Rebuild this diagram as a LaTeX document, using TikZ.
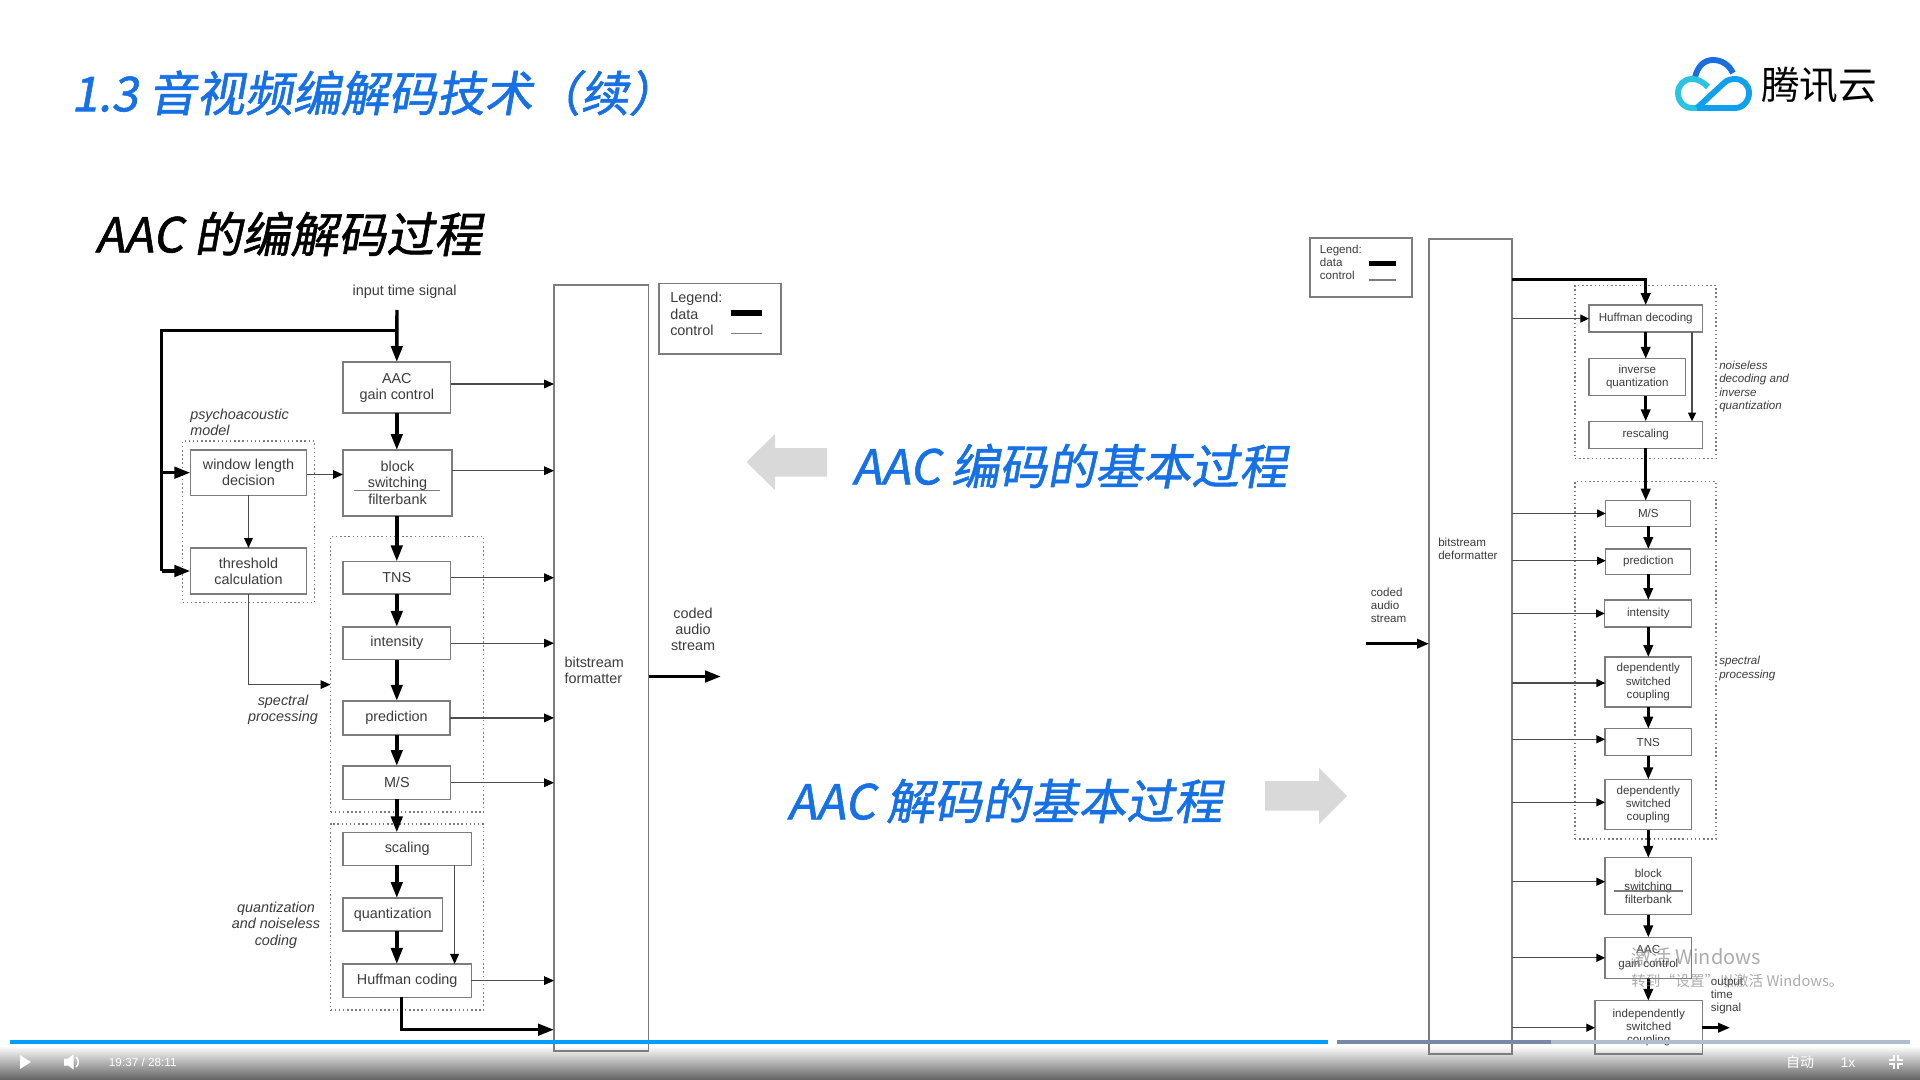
\documentclass[tikz,border=0pt]{standalone}
\usepackage{fontspec}
\setmainfont{Liberation Sans}
\newfontfamily\cjk{Noto Sans CJK SC}
\newfontfamily\cjkslant[FakeSlant=0.18,FakeBold=1.2]{Noto Sans CJK SC}
\usetikzlibrary{arrows.meta,calc}
\definecolor{ttlblue}{RGB}{22,112,230}
\definecolor{boxgray}{RGB}{125,125,125}
\definecolor{txtgray}{RGB}{60,60,60}
\definecolor{arrowgray}{RGB}{217,217,217}
\tikzset{
  wh/.style 2 args={minimum width=#1*0.75pt,minimum height=#2*0.75pt},
  lbox/.style={draw=boxgray,line width=1.1pt,inner sep=0pt,outer sep=0pt,align=center,text=txtgray,font=\fontsize{10.8}{12}\selectfont},
  rbox/.style={lbox,line width=1pt,font=\fontsize{8.7}{10}\selectfont},
  dotbox/.style={draw=boxgray,line width=1.1pt,dotted,inner sep=0pt,outer sep=0pt},
  ltxt/.style={inner sep=0pt,align=center,text=txtgray,font=\fontsize{10.8}{12}\selectfont},
  rtxt/.style={inner sep=0pt,align=left,text=txtgray,font=\fontsize{8.7}{10}\selectfont},
  ldata/.style={line width=2.6pt,-{Triangle[length=12pt,width=8.5pt]}},
  lctrl/.style={line width=0.9pt,draw=black!70,-{Triangle[length=7.5pt,width=6.5pt,color=black]}},
  rdata/.style={line width=2pt,-{Triangle[length=9pt,width=7pt]}},
  rctrl/.style={line width=0.9pt,draw=black!70,-{Triangle[length=6.5pt,width=6pt,color=black]}},
  bigtxt/.style={inner sep=0pt,anchor=west,font=\cjkslant\fontsize{36}{40}\selectfont},
}
\begin{document}
\begin{tikzpicture}[x=0.75pt,y=0.75pt,yscale=-1,xscale=1]
\useasboundingbox (0,0) rectangle (1920,1080);
\fill[white] (0,0) rectangle (1920,1080);
%Shape: player bar
\shade[top color=white,bottom color=black!62] (0,1046) rectangle (1920,1080);

% Titles
\node[bigtxt,text=ttlblue] (title) at (71,93) {1.3 音视频编解码技术（续）};
\node[bigtxt,text=black] (subtitle) at (95,234) {AAC 的编解码过程};
\node[bigtxt,text=ttlblue] (enctxt) at (852,466) {AAC 编码的基本过程};
\node[bigtxt,text=ttlblue] (dectxt) at (787,801) {AAC 解码的基本过程};
%Shape: grey arrows
\fill[arrowgray] (746.5,462) -- (775,434) -- (775,448) -- (827,448) -- (827,476.5) -- (775,476.5) -- (775,490) -- cycle;
\fill[arrowgray] (1347,796) -- (1319,768) -- (1319,781) -- (1265,781) -- (1265,810.5) -- (1319,810.5) -- (1319,824) -- cycle;

%Shape: logo
\draw[line width=4.4pt,color={rgb,255:red,26;green,111;blue,224}] (1695,77) .. controls (1698,66) and (1704,60) .. (1713,60) .. controls (1722,60) and (1729,65) .. (1733,73);
\draw[line width=4.4pt,color={rgb,255:red,43;green,196;blue,224}] (1708,87) .. controls (1703,82) and (1698,79) .. (1692,79) .. controls (1684,79) and (1678,85) .. (1678,93) .. controls (1678,101) and (1684,108) .. (1692,108) -- (1700,108);
\draw[line width=4.4pt,color={rgb,255:red,16;green,160;blue,240}] (1697,108) -- (1735,108) .. controls (1743,108) and (1749,101) .. (1749,93) .. controls (1749,85) and (1743,79) .. (1735,79) .. controls (1731,79) and (1727,80) .. (1724,83) -- (1697,108);
\node[inner sep=0pt,anchor=west,font=\cjk\fontsize{29}{32}\selectfont] (logotxt) at (1761,85) {腾讯云};

%Left diagram: boxes
\node[lbox,wh={94.5}{766}] (fmt) at (601.3,668) {};
\node[lbox,wh={122}{70.5}] (leglbox) at (720,318.7) {};
\node[dotbox,wh={131.6}{161.7}] (psy) at (248.5,521.8) {};
\node[dotbox,wh={153}{275.5}] (spec) at (407,674.3) {};
\node[dotbox,wh={153}{186}] (quantg) at (407,917) {};
\node[lbox,wh={107.5}{51}] (aac) at (396.8,387.5) {AAC\\gain control};
\node[lbox,wh={109}{66}] (blk) at (397.5,483) {block\\switching\\[1pt]filterbank};
\node[lbox,wh={116.3}{45.5}] (win) at (248.5,472.7) {window length\\decision};
\node[lbox,wh={116.3}{46}] (thr) at (248.5,571) {threshold\\calculation};
\node[lbox,wh={107.5}{32.6}] (tns) at (396.8,577.7) {TNS};
\node[lbox,wh={107.5}{32.7}] (inten) at (396.8,643.2) {intensity};
\node[lbox,wh={107}{34.2}] (pred) at (396.5,717.9) {prediction};
\node[lbox,wh={107.5}{33.4}] (ms) at (396.8,782.7) {M/S};
\node[lbox,wh={128.4}{33}] (scal) at (407.2,848.9) {scaling};
\node[lbox,wh={99.3}{33}] (quant) at (392.7,914.5) {quantization};
\node[lbox,wh={128.4}{33.3}] (hcod) at (407.2,980.6) {Huffman coding};
\draw[boxgray,line width=1.1pt] ($(blk.west)+(11,7.4)$) -- ($(blk.east)+(-12,7.4)$);

%Left diagram: text
\node[ltxt] (inlbl) at (404.6,292) {input time signal};
\node[ltxt,align=left,anchor=west,font=\itshape\fontsize{10.8}{12}\selectfont] (psylbl) at (190,422) {psychoacoustic\\model};
\node[ltxt,font=\itshape\fontsize{10.8}{12}\selectfont] (speclbl) at (283,710) {spectral\\processing};
\node[ltxt,font=\itshape\fontsize{10.8}{12.4}\selectfont] (qnclbl) at (276,925) {quantization\\and noiseless\\coding};
\node[ltxt,align=left,anchor=west] (fmtlbl) at (564.3,670) {bitstream\\formatter};
\node[ltxt] (outlbl) at (693,629) {coded\\audio\\stream};
\node[ltxt,align=left,anchor=north west,font=\fontsize{10.8}{12.4}\selectfont] (leglbl) at (670,292) {Legend:\\data\\control};
\coordinate (lda) at (730.6,313.4);
\coordinate (ldb) at (762,313.4);
\coordinate (lca) at (730.6,333.7);
\coordinate (lcb) at (762,333.7);
\draw[line width=4.4pt] (lda) -- (ldb);
\draw[boxgray,line width=0.9pt] (lca) -- (lcb);

%Left diagram: data lines
\coordinate (inp) at (397,310);
\coordinate (tee) at (397,330.6);
\coordinate (busT) at (161.7,330.6);
\coordinate (hout) at (401.5,997.3);
\coordinate (fmtout) at (721,676.5);
\draw[ldata] (inp) -- (aac.north);
\draw[ldata,-] (tee) -- (busT) -- (busT |- thr.west);
\draw[ldata] (busT |- win.west) -- (win.west);
\draw[ldata] (busT |- thr.west) -- (thr.west);
\draw[ldata] (aac.south) -- (aac.south |- blk.north);
\draw[ldata] (aac.south |- blk.south) -- (aac.south |- tns.north);
\draw[ldata] (tns.south) -- (inten.north);
\draw[ldata] (inten.south) -- (inten.south |- pred.north);
\draw[ldata] (inten.south |- pred.south) -- (inten.south |- ms.north);
\draw[ldata] (ms.south) -- (ms.south |- scal.north);
\draw[ldata] (ms.south |- scal.south) -- (ms.south |- quant.north);
\draw[ldata] (ms.south |- quant.south) -- (ms.south |- hcod.north);
\draw[ldata] (hout) |- (fmt.west |- 0,1029.7);
\draw[ldata] (fmt.east |- fmtout) -- (fmtout);

%Left diagram: control lines
\draw[lctrl] (aac.east |- 0,384) -- (fmt.west |- 0,384);
\draw[lctrl] (blk.east |- 0,470.7) -- (fmt.west |- 0,470.7);
\draw[lctrl] (tns.east) -- (fmt.west |- tns.east);
\draw[lctrl] (inten.east) -- (fmt.west |- inten.east);
\draw[lctrl] (pred.east) -- (fmt.west |- pred.east);
\draw[lctrl] (ms.east) -- (fmt.west |- ms.east);
\draw[lctrl] (hcod.east) -- (fmt.west |- hcod.east);
\draw[lctrl] (win.east |- 0,474.5) -- (blk.west |- 0,474.5);
\draw[lctrl] (win.south) -- (thr.north);
\draw[lctrl] (thr.south) |- (spec.west |- 0,684.6);
\draw[lctrl] (scal.south -| 454.6,0) -- (hcod.north -| 454.6,0);

%Right diagram: boxes
\node[lbox,wh={83}{815}] (dfm) at (1470.5,646.5) {};
\node[lbox,wh={102}{59}] (legrbox) at (1361,267.5) {};
\node[dotbox,wh={141}{173}] (noisg) at (1645.5,372.2) {};
\node[dotbox,wh={141}{357.7}] (specr) at (1645.5,660.2) {};
\node[rbox,wh={113.4}{27}] (hdec) at (1645.7,318.6) {Huffman decoding};
\node[rbox,wh={96.7}{37}] (iq) at (1637.3,377.3) {inverse\\quantization};
\node[rbox,wh={113.4}{27}] (resc) at (1645.7,434.8) {rescaling};
\node[rbox,wh={85}{25.6}] (msr) at (1648.3,513.5) {M/S};
\node[rbox,wh={85}{25.3}] (predr) at (1648.3,561.7) {prediction};
\node[rbox,wh={87}{27}] (intenr) at (1648.3,613.5) {intensity};
\node[rbox,wh={86.4}{50}] (dsa) at (1648.3,682) {dependently\\switched\\coupling};
\node[rbox,wh={86.4}{27}] (tnsr) at (1648.3,742.2) {TNS};
\node[rbox,wh={86.4}{50.3}] (dsb) at (1648.3,804.5) {dependently\\switched\\coupling};
\node[rbox,wh={86.4}{57}] (blkr) at (1648.3,886.3) {block\\switching\\filterbank};
\node[rbox,wh={86.4}{41}] (aacr) at (1648.3,957.8) {AAC\\gain control};
\node[rbox,wh={107.4}{53.3}] (ind) at (1648.7,1027.4) {independently\\switched\\coupling};
\draw[boxgray,line width=1pt] ($(blkr.west)+(8.5,4.7)$) -- ($(blkr.east)+(-8.5,4.7)$);

%Right diagram: text
\node[rtxt,anchor=north west] (leglblr) at (1319.6,244.5) {Legend:\\data\\control};
\node[rtxt,anchor=west] (dfmlbl) at (1438,549) {bitstream\\deformatter};
\node[rtxt,anchor=west] (inlblr) at (1370.6,605.5) {coded\\audio\\stream};
\node[rtxt,anchor=west,font=\itshape\fontsize{8.7}{10}\selectfont] (noislbl) at (1719,386.5) {noiseless\\decoding and\\inverse\\quantization};
\node[rtxt,anchor=west,font=\itshape\fontsize{8.7}{10}\selectfont] (speclblr) at (1719,668.5) {spectral\\processing};
\node[rtxt,anchor=west] (outlblr) at (1710.6,996) {output\\time\\signal};
\coordinate (rda) at (1369,263.3);
\coordinate (rdb) at (1395.5,263.3);
\coordinate (rca) at (1369,280);
\coordinate (rcb) at (1395.5,280);
\draw[line width=3.4pt] (rda) -- (rdb);
\draw[boxgray,line width=0.8pt] (rca) -- (rcb);

%Right diagram: data lines
\coordinate (rin) at (1365.7,643.7);
\coordinate (rout) at (1730,1027.7);
\coordinate (rtop) at (1645.7,279.3);
\draw[rdata] (rin) -- (dfm.west |- rin);
\draw[rdata] (dfm.east |- rtop) -- (rtop) -- (hdec.north);
\draw[rdata] (hdec.south) -- (hdec.south |- iq.north);
\draw[rdata] (hdec.south |- iq.south) -- (resc.north);
\draw[rdata] (resc.south) -- (resc.south |- msr.north);
\draw[rdata] (msr.south) -- (predr.north);
\draw[rdata] (predr.south) -- (intenr.north);
\draw[rdata] (intenr.south) -- (dsa.north);
\draw[rdata] (dsa.south) -- (tnsr.north);
\draw[rdata] (tnsr.south) -- (dsb.north);
\draw[rdata] (dsb.south) -- (blkr.north);
\draw[rdata] (blkr.south) -- (aacr.north);
\draw[rdata] (aacr.south) -- (aacr.south |- ind.north);
\draw[rdata] (ind.east |- rout) -- (rout);

%Right diagram: control lines
\draw[rctrl] (dfm.east |- hdec.west) -- (hdec.west);
\draw[rctrl] (dfm.east |- msr.west) -- (msr.west);
\draw[rctrl] (dfm.east |- 0,560.7) -- (predr.west |- 0,560.7);
\draw[rctrl] (dfm.east |- intenr.west) -- (intenr.west);
\draw[rctrl] (dfm.east |- 0,683) -- (dsa.west |- 0,683);
\draw[rctrl] (dfm.east |- 0,739.3) -- (tnsr.west |- 0,739.3);
\draw[rctrl] (dfm.east |- 0,802.3) -- (dsb.west |- 0,802.3);
\draw[rctrl] (dfm.east |- 0,881.7) -- (blkr.west |- 0,881.7);
\draw[rctrl] (dfm.east |- aacr.west) -- (aacr.west);
\draw[rctrl] (dfm.east |- rout) -- (ind.west |- rout);
\draw[rctrl] (hdec.south -| 1692,0) -- (resc.north -| 1692,0);

%Shape: player controls
\fill[color={rgb,255:red,0;green,160;blue,250}] (10,1040) rectangle (1327.5,1044);
\fill[color={rgb,255:red,178;green,188;blue,205}] (1337,1040) rectangle (1910,1044);
\fill[color={rgb,255:red,122;green,136;blue,168}] (1337,1040) rectangle (1551,1044);
\fill[white] (20,1055) -- (31,1062) -- (20,1069) -- cycle;
\fill[white] (64,1058.5) -- (68,1058.5) -- (73.5,1054.5) -- (73.5,1069.5) -- (68,1065.5) -- (64,1065.5) -- cycle;
\draw[white,line width=1.1pt] (76,1057) .. controls (79,1059) and (79,1065) .. (76,1067);
\node[inner sep=0pt,anchor=west,text=white,font=\fontsize{8.8}{10}\selectfont] (timetxt) at (108.7,1062) {19:37 / 28:11};
\node[inner sep=0pt,text=white,font=\cjk\fontsize{10.5}{12}\selectfont] (autotxt) at (1800,1062.5) {自动};
\node[inner sep=0pt,text=white,font=\fontsize{10.5}{12}\selectfont] (speedtxt) at (1848,1062.5) {1x};
\draw[white,line width=1.6pt] (1889,1060) -- (1894,1060) -- (1894,1055) (1898,1055) -- (1898,1060) -- (1903,1060) (1889,1064) -- (1894,1064) -- (1894,1069) (1898,1069) -- (1898,1064) -- (1903,1064);

% watermark
\node[inner sep=0pt,anchor=west,text=gray,opacity=0.65,font=\cjk\fontsize{15}{17}\selectfont] (wma) at (1631,957) {激活 Windows};
\node[inner sep=0pt,anchor=west,text=gray,opacity=0.65,font=\cjk\fontsize{11}{13}\selectfont] (wmb) at (1631,981) {转到“设置”以激活 Windows。};
\end{tikzpicture}
\end{document}
